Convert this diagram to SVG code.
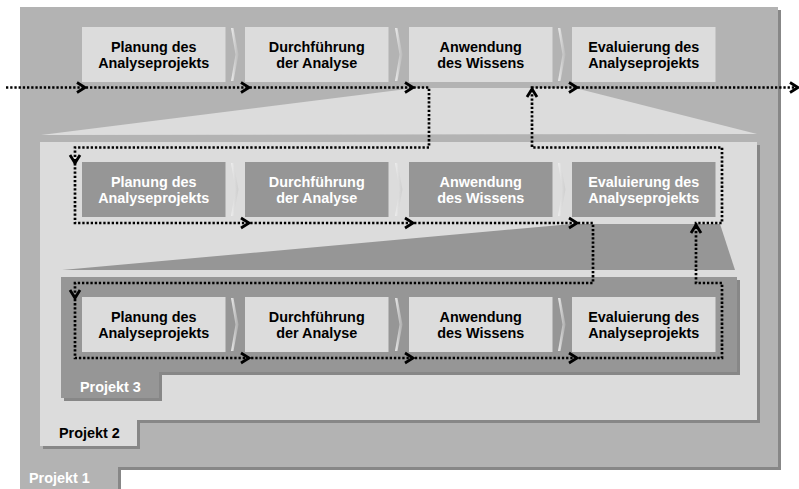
<svg xmlns="http://www.w3.org/2000/svg" width="799" height="489" viewBox="0 0 799 489">
  <defs>
    <style>
      text { font-family: "Liberation Sans", Arial, sans-serif; font-weight: bold; font-size: 14.4px; }
      .lbl { text-anchor: middle; }
      .dark { fill: #000000; }
      .white { fill: #ffffff; }
      .shadow { fill: #878787; }
      .p1 { fill: #b3b3b3; }
      .light { fill: #dcdcdc; }
      .mid { fill: #969696; }
      .chev { fill: url(#chevGrad); }
      .flow { fill: none; stroke: #000000; stroke-width: 2.7; stroke-dasharray: 2.3 1.9; }
      .head { fill: none; stroke: #000000; stroke-width: 2.8; stroke-linejoin: miter; }
    </style>
    <linearGradient id="chevGrad" x1="0" y1="0" x2="1" y2="0">
      <stop offset="0" stop-color="#f2f2f2" stop-opacity="0.95"/>
      <stop offset="1" stop-color="#c4c4c4" stop-opacity="0.5"/>
    </linearGradient>
    <!-- thin separator chevron between two phase boxes, height 55 -->
    <polygon id="chevron" class="chev" points="0,1 2.5,1 7.5,27.5 2.5,54 0,54 4.5,27.5"/>
    <!-- open arrowhead, tip at origin, pointing right -->
    <path id="head" class="head" d="M-8,-5 L0,0 L-8,5"/>
  </defs>

  <!-- Projekt 1 panel -->
  <g id="projekt1">
    <polygon class="shadow" transform="translate(3,3)" points="20,7 778,7 778,467 118,467 118,489 20,489"/>
    <polygon class="p1" points="20,7 778,7 778,467 118,467 118,489 20,489"/>
    <text class="white" x="29" y="483">Projekt 1</text>
  </g>

  <!-- zoom wedge from the top row into Projekt 2 -->
  <polygon id="wedge1" class="light" points="41,135 415,88 575,88 757,134"/>

  <!-- Projekt 2 panel -->
  <g id="projekt2">
    <polygon class="shadow" transform="translate(3,3)" points="40,142 757,142 757,420 137,420 137,446 40,446"/>
    <polygon class="light" points="40,142 757,142 757,420 137,420 137,446 40,446"/>
    <text class="dark" x="59" y="438">Projekt 2</text>
  </g>

  <!-- zoom wedge from Projekt 2 into Projekt 3 -->
  <polygon id="wedge2" class="mid" points="62,270 572,224 720,224 735,270"/>

  <!-- Projekt 3 panel -->
  <g id="projekt3">
    <polygon class="shadow" transform="translate(3,3)" points="61,277 737,277 737,372 159,372 159,398 61,398"/>
    <polygon class="mid" points="61,277 737,277 737,372 159,372 159,398 61,398"/>
    <text class="white" x="80" y="391.5">Projekt 3</text>
  </g>

  <!-- top row: Projekt 1 phases -->
  <g id="p1-planung">
    <rect class="light" x="82" y="27" width="143.5" height="55"/>
    <text class="lbl dark" x="153.75" y="51.5">Planung des</text>
    <text class="lbl dark" x="153.75" y="68">Analyseprojekts</text>
  </g>
  <use href="#chevron" x="231" y="27"/>
  <g id="p1-durchfuehrung">
    <rect class="light" x="245" y="27" width="143.5" height="55"/>
    <text class="lbl dark" x="316.75" y="51.5">Durchführung</text>
    <text class="lbl dark" x="316.75" y="68">der Analyse</text>
  </g>
  <use href="#chevron" x="395" y="27"/>
  <g id="p1-anwendung">
    <rect class="light" x="409" y="27" width="143.5" height="55"/>
    <text class="lbl dark" x="480.75" y="51.5">Anwendung</text>
    <text class="lbl dark" x="480.75" y="68">des Wissens</text>
  </g>
  <use href="#chevron" x="558" y="27"/>
  <g id="p1-evaluierung">
    <rect class="light" x="572" y="27" width="143.5" height="55"/>
    <text class="lbl dark" x="643.75" y="51.5">Evaluierung des</text>
    <text class="lbl dark" x="643.75" y="68">Analyseprojekts</text>
  </g>

  <!-- middle row: Projekt 2 phases -->
  <g id="p2-planung">
    <rect class="mid" x="82" y="162" width="143.5" height="55"/>
    <text class="lbl white" x="153.75" y="186.5">Planung des</text>
    <text class="lbl white" x="153.75" y="203">Analyseprojekts</text>
  </g>
  <use href="#chevron" x="231" y="162"/>
  <g id="p2-durchfuehrung">
    <rect class="mid" x="245" y="162" width="143.5" height="55"/>
    <text class="lbl white" x="316.75" y="186.5">Durchführung</text>
    <text class="lbl white" x="316.75" y="203">der Analyse</text>
  </g>
  <use href="#chevron" x="395" y="162"/>
  <g id="p2-anwendung">
    <rect class="mid" x="409" y="162" width="143.5" height="55"/>
    <text class="lbl white" x="480.75" y="186.5">Anwendung</text>
    <text class="lbl white" x="480.75" y="203">des Wissens</text>
  </g>
  <use href="#chevron" x="558" y="162"/>
  <g id="p2-evaluierung">
    <rect class="mid" x="572" y="162" width="143.5" height="55"/>
    <text class="lbl white" x="643.75" y="186.5">Evaluierung des</text>
    <text class="lbl white" x="643.75" y="203">Analyseprojekts</text>
  </g>

  <!-- bottom row: Projekt 3 phases -->
  <g id="p3-planung">
    <rect class="light" x="82" y="297" width="143.5" height="55"/>
    <text class="lbl dark" x="153.75" y="321.5">Planung des</text>
    <text class="lbl dark" x="153.75" y="338">Analyseprojekts</text>
  </g>
  <use href="#chevron" x="231" y="297"/>
  <g id="p3-durchfuehrung">
    <rect class="light" x="245" y="297" width="143.5" height="55"/>
    <text class="lbl dark" x="316.75" y="321.5">Durchführung</text>
    <text class="lbl dark" x="316.75" y="338">der Analyse</text>
  </g>
  <use href="#chevron" x="395" y="297"/>
  <g id="p3-anwendung">
    <rect class="light" x="409" y="297" width="143.5" height="55"/>
    <text class="lbl dark" x="480.75" y="321.5">Anwendung</text>
    <text class="lbl dark" x="480.75" y="338">des Wissens</text>
  </g>
  <use href="#chevron" x="558" y="297"/>
  <g id="p3-evaluierung">
    <rect class="light" x="572" y="297" width="143.5" height="55"/>
    <text class="lbl dark" x="643.75" y="321.5">Evaluierung des</text>
    <text class="lbl dark" x="643.75" y="338">Analyseprojekts</text>
  </g>

  <!-- dotted process flow through all three projects -->
  <g id="connectors">
    <path class="flow" d="M6,87.5 H429 V147.5 H75 V223 H593 V283 H75 V358 H722 V283 H696 V223 H722 V147.5 H532 V87.5 H796"/>
    <use href="#head" transform="translate(85,87.5)"/>
    <use href="#head" transform="translate(249,87.5)"/>
    <use href="#head" transform="translate(413,87.5)"/>
    <use href="#head" transform="translate(577,87.5)"/>
    <use href="#head" transform="translate(798,87.5)"/>
    <use href="#head" transform="translate(75,163) rotate(90)"/>
    <use href="#head" transform="translate(249,223)"/>
    <use href="#head" transform="translate(413,223)"/>
    <use href="#head" transform="translate(577,223)"/>
    <use href="#head" transform="translate(75,298) rotate(90)"/>
    <use href="#head" transform="translate(249,358)"/>
    <use href="#head" transform="translate(413,358)"/>
    <use href="#head" transform="translate(577,358)"/>
    <use href="#head" transform="translate(696,225) rotate(-90)"/>
    <use href="#head" transform="translate(532,89) rotate(-90)"/>
  </g>
</svg>
